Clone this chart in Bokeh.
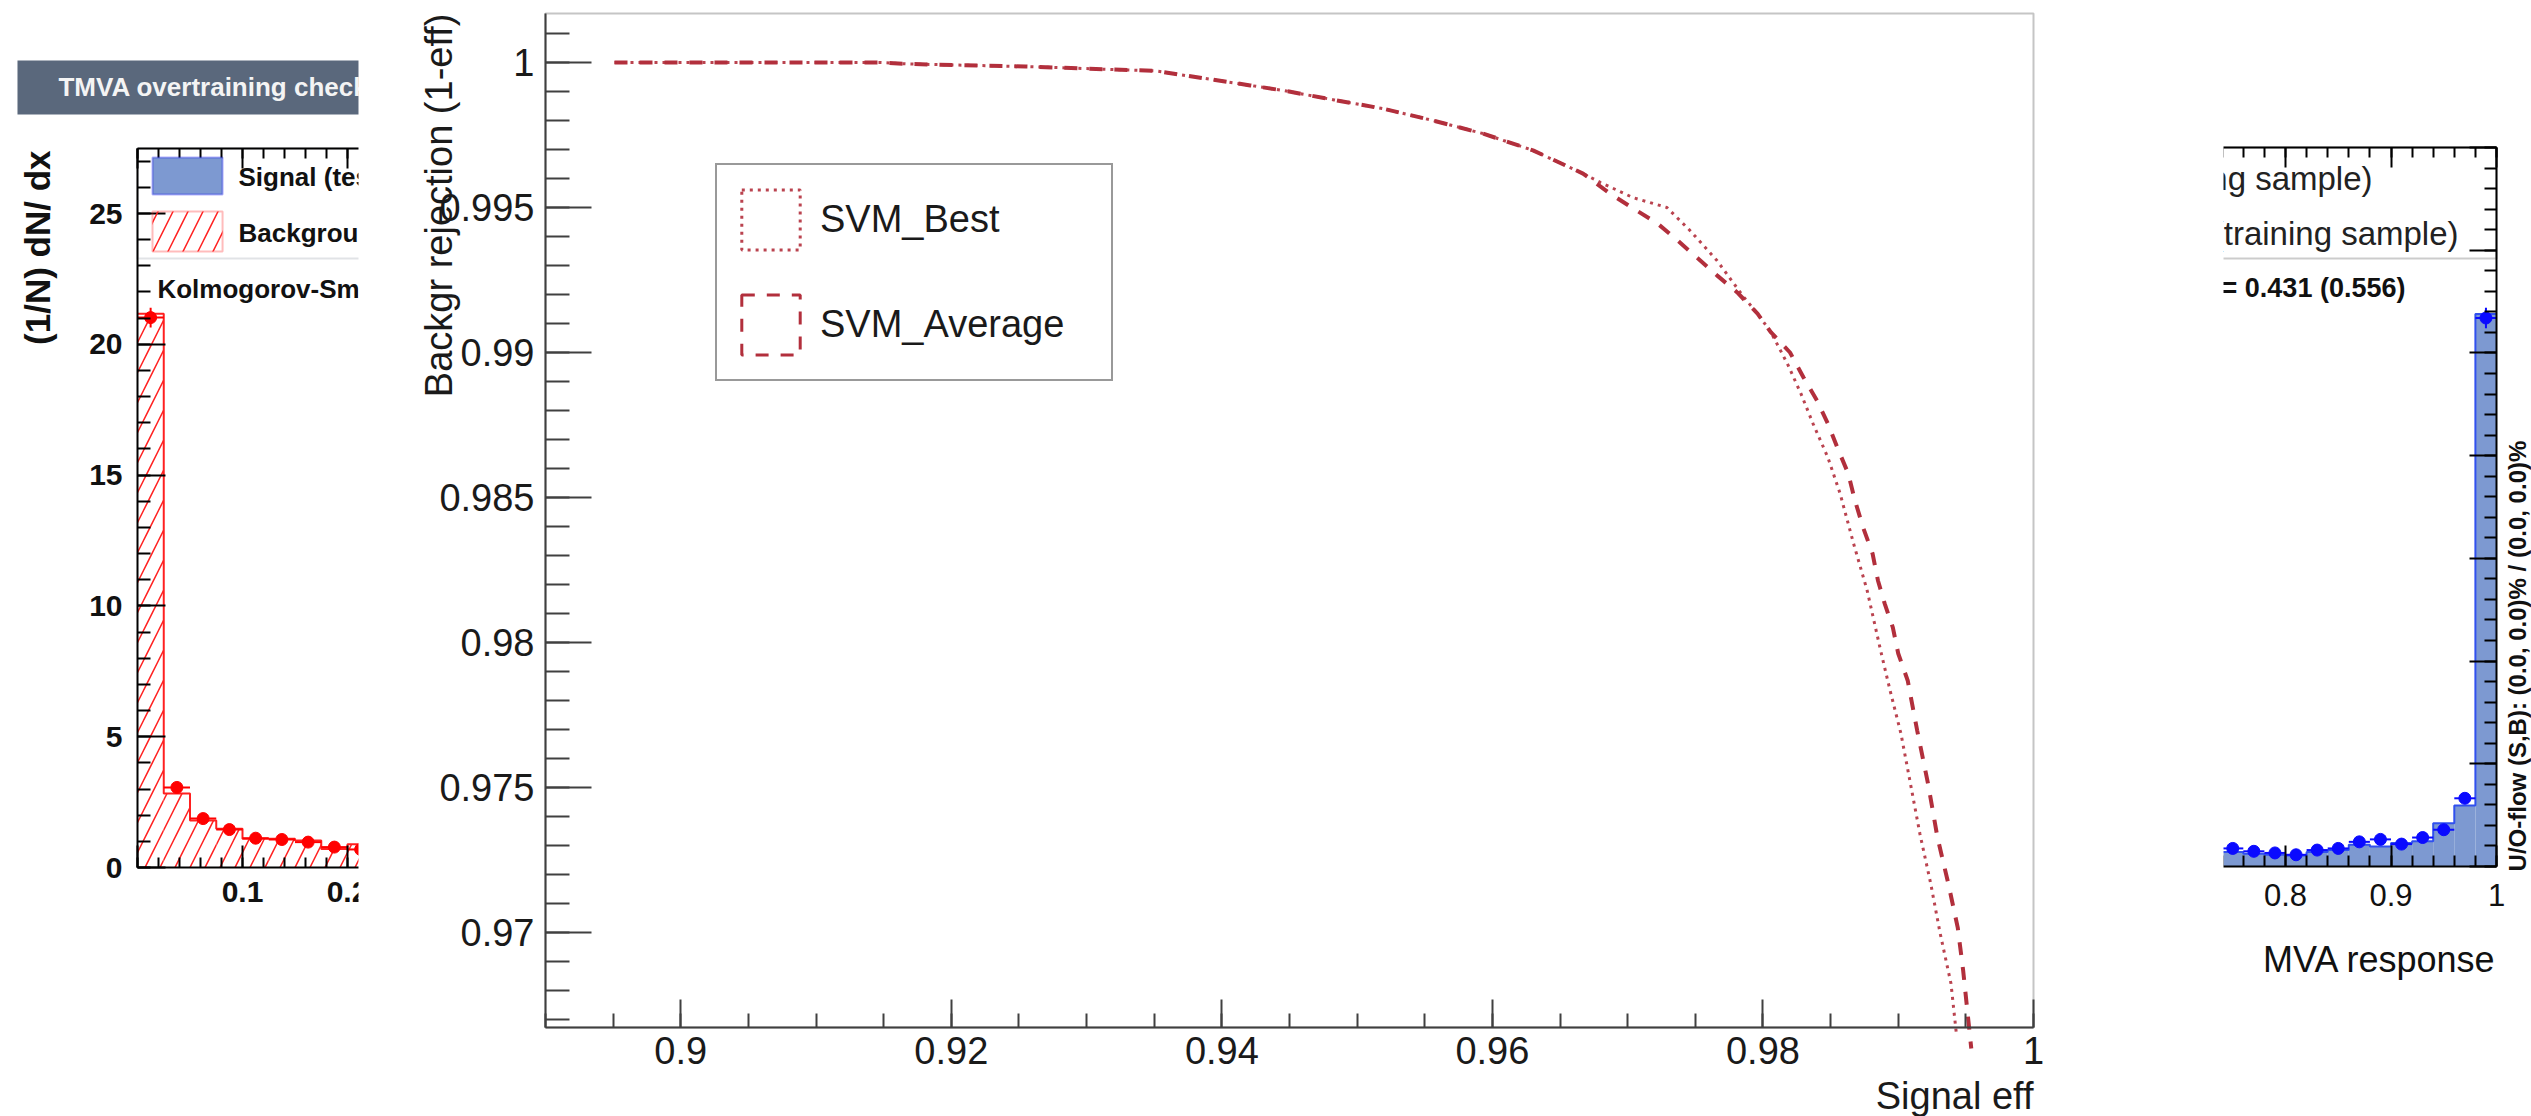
import math
from bokeh.plotting import figure
from bokeh.models import (Range1d, SingleIntervalTicker, LinearAxis, Label, Legend,
                          LegendItem, BoxAnnotation, CustomJSTickFormatter)
from bokeh.embed import file_html
from bokeh.resources import INLINE

FONT = "Liberation Sans"

# ---------------- ROC data (signal efficiency vs background rejection) ----------------
roc_best_eff = [0.8951, 0.9147, 0.9168, 0.9255, 0.9351, 0.9421, 0.9446, 0.9483, 0.9519, 0.9556,
                0.9593, 0.9630, 0.9667, 0.9680, 0.9704, 0.9729, 0.9746, 0.9766, 0.9786, 0.9796,
                0.9806, 0.9818, 0.9828, 0.9837, 0.9848, 0.9857, 0.9867, 0.9877, 0.9887, 0.9894,
                0.9902, 0.9909, 0.9916, 0.9924, 0.9931, 0.9939, 0.9943]
roc_best_rej = [1.0, 1.0, 0.99995, 0.99986, 0.99971, 0.99921, 0.99903, 0.99871, 0.99841, 0.9980,
                0.99755, 0.99697, 0.99617, 0.99586, 0.99534, 0.9950, 0.99421, 0.99317, 0.9919, 0.99134,
                0.99069, 0.98962, 0.98859, 0.98755, 0.98638, 0.98514, 0.98341, 0.9818, 0.97972, 0.97834,
                0.97686, 0.97514, 0.97341, 0.97169, 0.96997, 0.96824, 0.9665]
roc_avg_eff = [0.8951, 0.9147, 0.9168, 0.9255, 0.9351, 0.9421, 0.9446, 0.9483, 0.9519, 0.9556,
               0.9593, 0.9630, 0.9667, 0.9687, 0.9704, 0.9722, 0.9737, 0.9752, 0.9766, 0.9781,
               0.9796, 0.9806, 0.9820, 0.9830, 0.9840, 0.9848, 0.9855, 0.9863, 0.9868, 0.9874,
               0.9881, 0.9885, 0.9890, 0.9896, 0.9900, 0.9907, 0.9914, 0.9922, 0.9929, 0.9937,
               0.9944, 0.9948, 0.9954]
roc_avg_rej = [1.0, 1.0, 0.99995, 0.99986, 0.99971, 0.99921, 0.99903, 0.99871, 0.99841, 0.9980,
               0.99755, 0.99697, 0.99617, 0.99548, 0.99497, 0.99445, 0.99386, 0.99324, 0.99266, 0.99207,
               0.99134, 0.99069, 0.99, 0.98914, 0.98834, 0.98755, 0.98672, 0.98583, 0.9849, 0.98397,
               0.98307, 0.98214, 0.98134, 0.98052, 0.97962, 0.97869, 0.97697, 0.97514, 0.97328, 0.97169,
               0.97017, 0.96869, 0.9660]
roc_names = ["SVM_Best", "SVM_Average"]

# ---------------- overtraining fragment (left): background, MVA response bins ----------------
left_edges = [0.0, 0.025, 0.05, 0.075, 0.1, 0.125, 0.15, 0.175, 0.2, 0.225]
bkg_test = [21.17, 2.83, 1.80, 1.48, 1.10, 1.10, 1.03, 0.71, 0.89]
bkg_train = [21.02, 3.06, 1.87, 1.45, 1.12, 1.07, 0.97, 0.78, 0.69]
bkg_train_err = [0.38, 0.13, 0.10, 0.09, 0.08, 0.08, 0.07, 0.07, 0.06]

# ---------------- overtraining fragment (right): signal ----------------
right_edges = [0.74, 0.76, 0.78, 0.80, 0.82, 0.84, 0.86, 0.88, 0.90, 0.92, 0.94, 0.96, 0.98, 1.00]
sig_test = [0.71, 0.62, 0.57, 0.54, 0.71, 0.80, 1.06, 0.97, 1.14, 1.23, 2.10, 2.97, 26.9]
sig_train = [0.88, 0.74, 0.66, 0.57, 0.80, 0.88, 1.20, 1.32, 1.09, 1.41, 1.79, 3.32, 26.7]
sig_train_err = [0.08, 0.07, 0.07, 0.06, 0.07, 0.08, 0.09, 0.10, 0.09, 0.10, 0.12, 0.18, 0.5]

title_text = "TMVA overtraining check for classifier: SVM_Best"
ks_text = "Kolmogorov-Smirnov test: signal (background) probability = 0.431 (0.556)"
legend_test = ["Signal (test sample)", "Background (test sample)"]
legend_train = ["Signal (training sample)", "Background (training sample)"]

RED = "#b22f3c"
SIG_FILL, SIG_LINE, BKG_COL = "#7d99d1", "#0000ee", "#ff2020"
W, H = 2531, 1116
NO_LABELS = CustomJSTickFormatter(code="return '';")


def span_range(v_a, p_a, v_b, p_b, total):
    """Range whose value v_a sits at pixel p_a and v_b at pixel p_b, over `total` pixels."""
    s = (v_b - v_a) / (p_b - p_a)
    return Range1d(v_a - p_a * s, v_a + (total - p_a) * s)


# one canvas; three coordinate systems (ROC, left fragment, right fragment)
roc_xr = span_range(0.89, 545, 1.0, 2033, W)
roc_yr = span_range(0.97, H - 932, 1.0, H - 62, H)
p = figure(width=W, height=H, x_range=roc_xr, y_range=roc_yr, output_backend="svg",
           toolbar_location=None, x_axis_location=None, y_axis_location=None, title=None,
           min_border=0, outline_line_color=None,
           background_fill_color="white", border_fill_color="white")
for g in p.grid:
    g.visible = False
p.extra_x_ranges = {"L": span_range(0.0, 137, 0.2, 347, W), "R": span_range(0.8, 2285, 1.0, 2496, W)}
p.extra_y_ranges = {"L": span_range(0.0, H - 867, 25.0, H - 213, H),
                    "R": span_range(0.0, H - 866, 35.0, H - 147, H)}


def make_axis(side, rng, loc, bounds, interval, nminor, color, maj_in, min_in, font_size="30px",
              bold=False, standoff=10, formatter=None, text_color="#111", level="guide"):
    kw = {}
    if rng is not None:
        kw = dict(x_range_name=rng, y_range_name=rng)
    ax = LinearAxis(fixed_location=loc, bounds=bounds, level=level,
                    ticker=SingleIntervalTicker(interval=interval, num_minor_ticks=nminor), **kw)
    if formatter is not None:
        ax.formatter = formatter
    ax.axis_line_color = color
    ax.axis_line_width = 2
    ax.major_tick_line_color = color
    ax.minor_tick_line_color = color
    ax.major_tick_line_width = 2
    ax.minor_tick_line_width = 2
    ax.major_tick_in = maj_in
    ax.major_tick_out = 0
    ax.minor_tick_in = min_in
    ax.minor_tick_out = 0
    ax.major_label_text_font = FONT
    ax.major_label_text_font_size = font_size
    ax.major_label_text_font_style = "bold" if bold else "normal"
    ax.major_label_text_color = text_color
    ax.major_label_standoff = standoff
    p.add_layout(ax, side)
    return ax


# =============================== left fragment ===============================
L = dict(x_range_name="L", y_range_name="L")
L_YTOP = 27.48
make_axis("below", "L", 0.0, (0.0, 1.0), 0.1, 5, "black", 22, 10, "30px", bold=True, standoff=14,
          formatter=CustomJSTickFormatter(
              code="if (Math.abs(tick) < 1e-9) return ''; return (Math.round(tick*10)/10).toString();"))
make_axis("above", "L", L_YTOP, (0.0, 1.0), 0.1, 5, "black", 20, 10, formatter=NO_LABELS)
make_axis("left", "L", 0.0, (0.0, L_YTOP), 5, 5, "black", 28, 13, "30px", bold=True, standoff=15)

l_left = left_edges[:-1]
l_right = left_edges[1:]
l_center = [(a + b) / 2 for a, b in zip(l_left, l_right)]
p.quad(left=l_left, right=l_right, bottom=0, top=bkg_test, fill_color=None, line_color=None,
       hatch_pattern="/", hatch_color=BKG_COL, hatch_scale=30, hatch_weight=1.5, **L)
p.step(left_edges, bkg_test + [bkg_test[-1]], mode="after", line_color=BKG_COL, line_width=2, **L)
p.segment(x0=l_left, x1=l_right, y0=bkg_train, y1=bkg_train, line_color="#ff0000", line_width=2, **L)
p.segment(x0=l_center, x1=l_center, y0=[v - e for v, e in zip(bkg_train, bkg_train_err)],
          y1=[v + e for v, e in zip(bkg_train, bkg_train_err)], line_color="#ff0000", line_width=2, **L)
p.scatter(l_center, bkg_train, size=12, color="#ff0000", **L)

# legend block of the overtraining plot (swatches + texts), drawn as annotations
p.add_layout(BoxAnnotation(left=0.0, right=1.0, bottom=23.28, top=L_YTOP, fill_color=None,
                           line_color="#9aa2ad", line_width=2, level="underlay", **L))
p.add_layout(BoxAnnotation(left=0.0143, right=0.0810, bottom=25.73, top=27.14, fill_color=SIG_FILL,
                           fill_alpha=1.0, line_color=SIG_LINE, line_width=2, **L))
p.add_layout(BoxAnnotation(left=0.0143, right=0.0810, bottom=23.55, top=25.08, fill_color=None,
                           line_color=BKG_COL, line_width=2, hatch_pattern="/", hatch_color=BKG_COL,
                           hatch_scale=30, hatch_weight=1.5, **L))
for txt, yy in zip(legend_test, [26.38, 24.24]):
    p.add_layout(Label(x=0.0962, y=yy, text=txt, text_baseline="middle", text_font=FONT,
                       text_font_size="26px", text_font_style="bold", text_color="#111", **L))
p.add_layout(Label(x=0.019, y=22.13, text=ks_text, text_baseline="middle", text_font=FONT,
                   text_font_size="26px", text_font_style="bold", text_color="#111", **L))
p.add_layout(Label(x=-0.0952, y=27.41, text="(1/N) dN/ dx", angle=math.pi / 2, text_align="right",
                   text_baseline="middle", text_font=FONT, text_font_size="35px",
                   text_font_style="bold", text_color="#111", **L))
p.add_layout(Label(x=-0.1143, y=29.82, text=title_text, text_baseline="middle", text_font=FONT,
                   text_font_size="26px", text_font_style="bold", text_color="#f4f4f4",
                   background_fill_color="#5a687c",
                   padding=dict(left=41, right=300, top=12, bottom=12), **L))

# =============================== right fragment ===============================
R = dict(x_range_name="R", y_range_name="R")
R_YTOP = 35.0
make_axis("below", "R", 0.0, (0.0, 1.0), 0.1, 5, "black", 21, 11, "31px", standoff=17,
          formatter=CustomJSTickFormatter(code="return (Math.round(tick*10)/10).toString();"))
make_axis("above", "R", R_YTOP, (0.0, 1.0), 0.1, 5, "black", 20, 10, formatter=NO_LABELS)
make_axis("right", "R", 1.0, (0.0, R_YTOP), 5, 5, "black", 27, 12, formatter=NO_LABELS)

r_left = right_edges[:-1]
r_right = right_edges[1:]
r_center = [(a + b) / 2 for a, b in zip(r_left, r_right)]
p.quad(left=r_left, right=r_right, bottom=0, top=sig_test, fill_color=SIG_FILL, line_color=None, **R)
p.step(right_edges, sig_test + [sig_test[-1]], mode="after", line_color="#3050ee", line_width=2, **R)
p.segment(x0=r_left, x1=r_right, y0=sig_train, y1=sig_train, line_color="#0a0aff", line_width=2, **R)
p.segment(x0=r_center, x1=r_center, y0=[v - e for v, e in zip(sig_train, sig_train_err)],
          y1=[v + e for v, e in zip(sig_train, sig_train_err)], line_color="#0a0aff", line_width=2, **R)
p.scatter(r_center, sig_train, size=12, color="#0a0aff", **R)

p.add_layout(BoxAnnotation(left=0.0, right=1.0, bottom=29.6, top=R_YTOP, fill_color=None,
                           line_color="#555555", line_width=2, level="underlay", **R))
for txt, xx, yy in zip(legend_train, [0.8825, 0.964], [33.5, 30.82]):
    p.add_layout(Label(x=xx, y=yy, text=txt, text_align="right", text_baseline="middle",
                       text_font=FONT, text_font_size="33px", text_color="#222", **R))
p.add_layout(Label(x=0.9137, y=28.14, text=ks_text, text_align="right", text_baseline="middle",
                   text_font=FONT, text_font_size="27px", text_font_style="bold", text_color="#111", **R))
p.add_layout(Label(x=1.0, y=-4.53, text="MVA response", text_align="right",
                   text_baseline="alphabetic", text_font=FONT, text_font_size="36px",
                   text_color="#111", **R))
p.add_layout(Label(x=1.0199, y=-0.24, text="U/O-flow (S,B): (0.0, 0.0)% / (0.0, 0.0)%",
                   angle=math.pi / 2, text_align="left", text_baseline="middle", text_font=FONT,
                   text_font_size="24px", text_font_style="bold", text_color="#111", **R))

# ====================== ROC canvas (white sheet pasted over the middle) ======================
ROC_XB = (0.89, 1.0)
ROC_YB = (0.96672, 1.00169)
PX_PER_EFF = (2033 - 545) / (ROC_XB[1] - ROC_XB[0])
p.add_layout(BoxAnnotation(left=ROC_XB[0] - (545 - 358) / PX_PER_EFF,
                           right=ROC_XB[1] + (2223 - 2033) / PX_PER_EFF,
                           fill_color="white", fill_alpha=1.0, line_color=None, level="annotation"))

make_axis("below", None, ROC_YB[0], ROC_XB, 0.02, 4, "#404040", 28, 14, "38px", standoff=9,
          formatter=CustomJSTickFormatter(code="return (Math.round(tick*100)/100).toString();"),
          text_color="#1a1a1a", level="overlay")
make_axis("left", None, ROC_XB[0], ROC_YB, 0.005, 5, "#404040", 46, 24, "38px", standoff=11,
          formatter=CustomJSTickFormatter(code="return (Math.round(tick*1000)/1000).toString();"),
          text_color="#1a1a1a", level="overlay")
p.add_layout(BoxAnnotation(left=ROC_XB[0], right=ROC_XB[1], bottom=ROC_YB[0], top=ROC_YB[1],
                           fill_color=None, line_color="#404040", line_width=2, level="overlay"))

p.line(roc_best_eff, roc_best_rej, line_color=RED, line_width=3, line_dash="3 5", line_alpha=0.9,
       level="overlay")
p.line(roc_avg_eff, roc_avg_rej, line_color=RED, line_width=4, line_dash="13 12", level="overlay")

leg_best = p.quad(left=[0.0], right=[0.01], top=[0.5], bottom=[0.4], fill_color=None,
                  line_color=RED, line_width=3, line_dash="3 5", line_alpha=0.9)
leg_avg = p.quad(left=[0.0], right=[0.01], top=[0.5], bottom=[0.4], fill_color=None,
                 line_color=RED, line_width=3, line_dash="13 12")
p.add_layout(Legend(items=[LegendItem(label=roc_names[0], renderers=[leg_best]),
                           LegendItem(label=roc_names[1], renderers=[leg_avg])],
                    location=(715, H - 381), orientation="vertical", glyph_width=73, glyph_height=75,
                    spacing=30, padding=17, label_standoff=13, label_width=274, margin=0,
                    label_text_font=FONT, label_text_font_size="38px", label_text_color="#1a1a1a",
                    border_line_color="#333333", border_line_width=2, background_fill_color="white",
                    level="overlay"))
p.add_layout(Label(x=ROC_XB[0] - (545 - 438) / PX_PER_EFF, y=ROC_YB[1], text="Backgr rejection (1-eff)",
                   angle=math.pi / 2, text_align="right", text_baseline="middle", text_font=FONT,
                   text_font_size="38px", text_color="#1a1a1a", level="overlay"))
p.add_layout(Label(x=ROC_XB[1], y=1.0 - (1095 - 62) / 29000.0, text="Signal eff", text_align="right",
                   text_baseline="alphabetic", text_font=FONT, text_font_size="38px",
                   text_color="#1a1a1a", level="overlay"))

open("out.html", "w").write(file_html(p, INLINE))
